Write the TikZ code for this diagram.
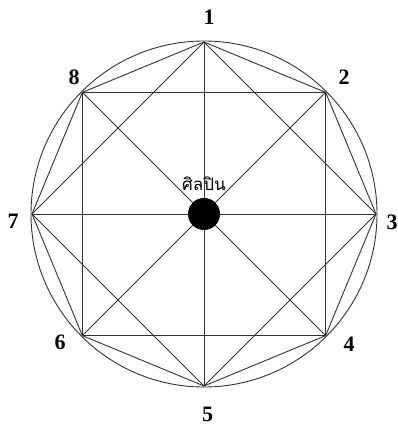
\documentclass[tikz,border=0pt]{standalone}
\usepackage{fontspec}
\setmainfont{Liberation Serif}
\newfontfamily\thaifont[Script=Thai]{Loma}
\begin{document}
\begin{tikzpicture}[x=1pt,y=1pt,
  edge/.style={draw=black!80,line width=0.9pt},
  num/.style={font=\fontsize{22}{22}\selectfont\bfseries,inner sep=0pt}]
\useasboundingbox (0,0) rectangle (398,428);
\coordinate (c) at (204,214);
\draw[edge] (c) circle (173);
\foreach \i/\a in {1/90,2/45,3/0,4/-45,5/-90,6/-135,7/180,8/135}{
  \coordinate (p\i) at ([shift={(\a:172)}]c);
}
% octagon
\draw[edge] (p1) -- (p2) -- (p3) -- (p4) -- (p5) -- (p6) -- (p7) -- (p8) -- cycle;
% squares
\draw[edge] (p2) -- (p4) -- (p6) -- (p8) -- cycle;
\draw[edge] (p1) -- (p3) -- (p5) -- (p7) -- cycle;
% diameters
\draw[edge] (p1) -- (p5);
\draw[edge] (p3) -- (p7);
\draw[edge] (p2) -- (p6);
\draw[edge] (p4) -- (p8);
% centre
\node[circle,fill=black,minimum size=32pt,inner sep=0pt] (dot) at (c) {};
\node[font=\thaifont\fontsize{17}{17}\selectfont,inner sep=0pt,anchor=base] (lbl) at (204,237) {ศิลปิน};
% numbers
\node[num] (n1) at (209,410.5) {1};
\node[num] (n2) at (344,350.5) {2};
\node[num] (n3) at (392,205.5) {3};
\node[num] (n4) at (349,84) {4};
\node[num] (n5) at (207.5,13.5) {5};
\node[num] (n6) at (60,86) {6};
\node[num] (n7) at (13,206.5) {7};
\node[num] (n8) at (74,350.5) {8};
\end{tikzpicture}
\end{document}
